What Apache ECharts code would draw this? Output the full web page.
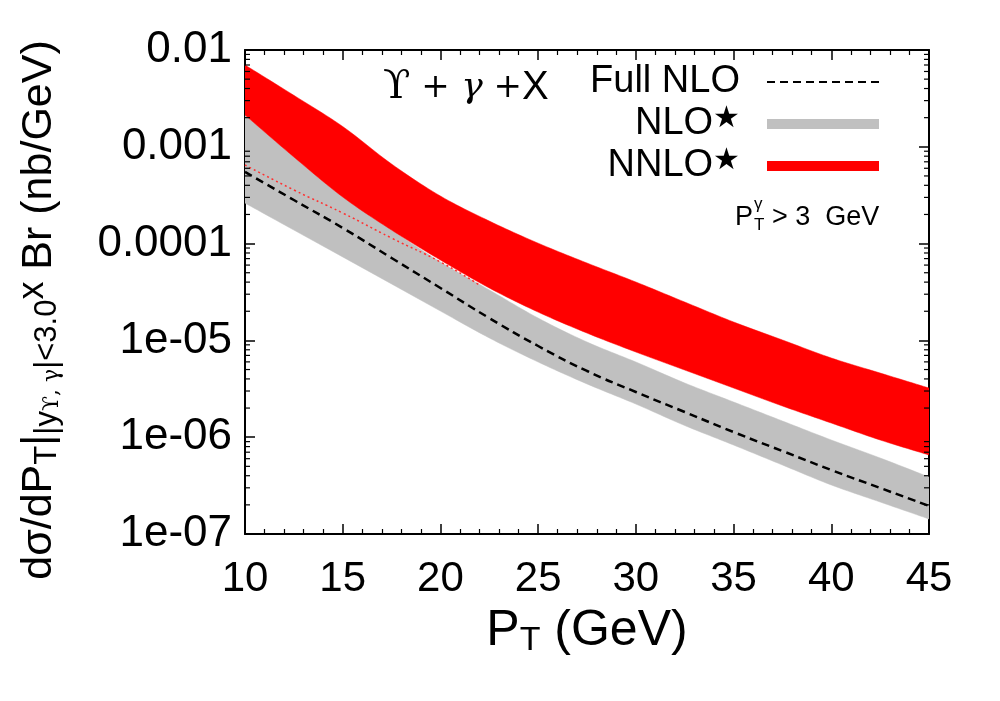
<!DOCTYPE html>
<html><head><meta charset="utf-8">
<script src="https://cdn.jsdelivr.net/npm/echarts@6/dist/echarts.min.js"></script>
<style>html,body{margin:0;padding:0;background:#fff}#c{width:1000px;height:701px}</style>
</head><body><div id="c"></div>
<script>
// ---- data ----
const pT        = [10, 12.5, 15, 17.5, 20, 22.5, 25, 27.5, 30, 32.5, 35, 37.5, 40, 42.5, 45];
const nnloTop   = [7.0e-3, 3.40e-3, 1.62e-3, 6.64e-4, 3.10e-4, 1.71e-4, 1.01e-4, 6.3e-5, 4.01e-5, 2.49e-5, 1.55e-5, 1.01e-5, 6.58e-6, 4.60e-6, 3.22e-6];
const nnloBot   = [2.13e-3, 7.85e-4, 3.03e-4, 1.38e-4, 6.77e-5, 3.48e-5, 1.96e-5, 1.19e-5, 7.58e-6, 4.94e-6, 3.22e-6, 2.10e-6, 1.40e-6, 9.36e-7, 6.55e-7];
const nloTop    = [2.13e-3, 7.85e-4, 3.03e-4, 1.38e-4, 6.46e-5, 3.32e-5, 1.70e-5, 9.62e-6, 5.98e-6, 3.63e-6, 2.31e-6, 1.47e-6, 9.36e-7, 6.10e-7, 3.88e-7];
const nloBot    = [2.62e-4, 1.38e-4, 7.28e-5, 3.83e-5, 2.01e-5, 1.06e-5, 5.98e-6, 3.55e-6, 2.20e-6, 1.32e-6, 8.30e-7, 5.16e-7, 3.21e-7, 2.14e-7, 1.43e-7];
const fullNLO   = [5.50e-4, 2.82e-4, 1.45e-4, 7.10e-5, 3.48e-5, 1.70e-5, 8.75e-6, 4.83e-6, 2.93e-6, 1.82e-6, 1.13e-6, 7.20e-7, 4.58e-7, 2.99e-7, 1.95e-7];
const dotPT     = [10, 12.5, 15, 17.5, 20, 22];
const dotVals   = [6.49e-4, 3.58e-4, 2.07e-4, 1.14e-4, 6.46e-5, 3.73e-5];
const yTickLabels = {'1e-7':'1e-07','1e-6':'1e-06','1e-5':'1e-05','1e-4':'0.0001','1e-3':'0.001','1e-2':'0.01'};
const minorMult = [2, 3, 4, 5, 6, 7, 8, 9];
const decades   = [-7, -6, -5, -4, -3];

const SANS = "'Liberation Sans', Arial, Helvetica, sans-serif";
const NARROW = "'Liberation Sans Narrow', 'Liberation Sans', sans-serif";

// Catmull-Rom resampling in pixel space of library-projected points
function spline(pts, steps) {
  const out = [];
  for (let i = 0; i < pts.length - 1; i++) {
    const p0 = pts[i - 1] || pts[i], p1 = pts[i], p2 = pts[i + 1], p3 = pts[i + 2] || pts[i + 1];
    for (let s = 0; s < steps; s++) {
      const t = s / steps, t2 = t * t, t3 = t2 * t;
      const f = k => 0.5 * ((2 * p1[k]) + (-p0[k] + p2[k]) * t + (2 * p0[k] - 5 * p1[k] + 4 * p2[k] - p3[k]) * t2 + (-p0[k] + 3 * p1[k] - 3 * p2[k] + p3[k]) * t3);
      out.push([f(0), f(1)]);
    }
  }
  out.push(pts[pts.length - 1]);
  return out;
}

function bandRender(lo, hi, color) {
  return function (params, api) {
    if (params.dataIndex !== 0) return null;
    const up = [], dn = [];
    for (let i = 0; i < pT.length; i++) { up.push(api.coord([pT[i], hi[i]])); dn.push(api.coord([pT[i], lo[i]])); }
    const pts = spline(up, 12).concat(spline(dn, 12).reverse());
    const cs = params.coordSys;
    return {
      type: 'polygon',
      shape: { points: pts },
      style: { fill: color, stroke: color, lineWidth: 0.5 },
      clipPath: { type: 'rect', shape: { x: cs.x, y: cs.y, width: cs.width, height: cs.height } }
    };
  };
}

const minorData = [];
decades.forEach(d => minorMult.forEach(m => minorData.push([10, m * Math.pow(10, d)])));

const chart = echarts.init(document.getElementById('c'), null, { renderer: 'canvas' });
chart.setOption({
  backgroundColor: '#fff',
  animation: false,
  grid: { left: 245, right: 71, top: 50, bottom: 167, containLabel: false, show: false },
  legend: {
    orient: 'vertical', align: 'right', right: 120, top: 63,
    itemWidth: 112, itemHeight: 10, itemGap: 3, padding: 0,
    data: [
      { name: 'Full NLO', itemStyle: { opacity: 0, color: 'rgba(0,0,0,0)', borderWidth: 0 } },
      { name: 'NLO★', icon: 'rect' },
      { name: 'NNLO★', icon: 'rect' }
    ],
    formatter: function (n) {
      if (n === 'Full NLO') return '{a|Full NLO}';
      return '{a|' + n.replace('★', '') + '}{s|★}';
    },
    textStyle: {
      color: '#000', fontFamily: SANS, fontSize: 38, padding: [0, 22, 0, 0],
      rich: {
        a: { fontFamily: SANS, fontSize: 38, color: '#000', lineHeight: 40 },
        s: { fontFamily: "'DejaVu Sans', sans-serif", fontSize: 30, color: '#000', verticalAlign: 'top', lineHeight: 40 }
      }
    }
  },
  xAxis: [{
    type: 'value', min: 10, max: 45, interval: 5, position: 'bottom',
    name: '{p|P}{s|T}{p| (GeV)}', nameLocation: 'middle', nameGap: 70,
    nameTextStyle: {
      rich: {
        p: { fontFamily: NARROW, fontSize: 50, color: '#000', lineHeight: 54 },
        s: { fontFamily: NARROW, fontSize: 34, color: '#000', verticalAlign: 'bottom', lineHeight: 22 }
      }
    },
    axisLine: { show: true, onZero: false, lineStyle: { color: '#000', width: 2 } },
    axisTick: { show: true, inside: true, length: 10, lineStyle: { color: '#000', width: 1.5 } },
    minorTick: { show: true, splitNumber: 5, length: 5, lineStyle: { color: '#000', width: 1.2 } },
    splitLine: { show: false },
    axisLabel: { color: '#000', fontFamily: NARROW, fontSize: 42, margin: 24 }
  }, {
    type: 'value', min: 10, max: 45, interval: 5, position: 'top',
    axisLine: { show: true, onZero: false, lineStyle: { color: '#000', width: 2 } },
    axisTick: { show: true, inside: true, length: 10, lineStyle: { color: '#000', width: 1.5 } },
    minorTick: { show: true, splitNumber: 5, length: 5, lineStyle: { color: '#000', width: 1.2 } },
    splitLine: { show: false }, axisLabel: { show: false }
  }],
  yAxis: [{
    type: 'log', logBase: 10, min: 1e-7, max: 1e-2, position: 'left',
    name: '{n|dσ/dP}{s|T}{n||}{s||y}{ss|ϒ, γ}{s||<3.0}{x|x}{n| Br (nb/GeV)}',
    nameLocation: 'middle', nameRotate: 90, nameGap: 182,
    nameTextStyle: {
      padding: [0, 36, 0, 0],
      rich: {
        n:  { fontFamily: SANS, fontSize: 43, color: '#000', lineHeight: 48 },
        s:  { fontFamily: SANS, fontSize: 31, color: '#000', verticalAlign: 'bottom', lineHeight: 22 },
        ss: { fontFamily: "'DejaVu Serif', serif", fontSize: 22, color: '#000', verticalAlign: 'bottom', lineHeight: 14 },
        x:  { fontFamily: SANS, fontSize: 36, color: '#000', verticalAlign: 'top', lineHeight: 40 }
      }
    },
    axisLine: { show: true, onZero: false, lineStyle: { color: '#000', width: 2 } },
    axisTick: { show: true, inside: true, length: 10, lineStyle: { color: '#000', width: 1.5 } },
    minorTick: { show: false },
    splitLine: { show: false },
    axisLabel: {
      color: '#000', fontFamily: SANS, fontSize: 44, margin: 13,
      formatter: function (v) {
        const e = Math.round(Math.log10(v));
        return yTickLabels['1e' + e] || String(v);
      }
    }
  }, {
    type: 'log', logBase: 10, min: 1e-7, max: 1e-2, position: 'right',
    axisLine: { show: true, onZero: false, lineStyle: { color: '#000', width: 2 } },
    axisTick: { show: true, inside: true, length: 10, lineStyle: { color: '#000', width: 1.5 } },
    splitLine: { show: false }, axisLabel: { show: false }
  }],
  series: [
    {
      name: 'NLO★', type: 'custom', xAxisIndex: 0, yAxisIndex: 0, z: 2,
      itemStyle: { color: '#c0c0c0' },
      renderItem: bandRender(nloBot, nloTop, '#c0c0c0'),
      encode: { x: 0, y: [1, 2] },
      data: pT.map((x, i) => [x, nloBot[i], nloTop[i]])
    },
    {
      name: 'NNLO★', type: 'custom', xAxisIndex: 0, yAxisIndex: 0, z: 3,
      itemStyle: { color: '#ff0000' },
      renderItem: bandRender(nnloBot, nnloTop, '#ff0000'),
      encode: { x: 0, y: [1, 2] },
      data: pT.map((x, i) => [x, nnloBot[i], nnloTop[i]])
    },
    {
      name: 'nnlo-edge', type: 'line', z: 4, symbol: 'none', smooth: true,
      lineStyle: { color: '#ff3030', width: 1.5, type: [2, 3] },
      data: dotPT.map((x, i) => [x, dotVals[i]]), silent: true
    },
    {
      name: 'Full NLO', type: 'line', z: 5, symbol: 'none', smooth: true,
      itemStyle: { color: '#000' },
      lineStyle: { color: '#000', width: 2.5, type: [8, 5] },
      data: pT.map((x, i) => [x, fullNLO[i]])
    },
    {
      name: 'yminor', type: 'custom', z: 6, silent: true,
      encode: { x: 0, y: 1 },
      renderItem: function (params, api) {
        const p = api.coord([api.value(0), api.value(1)]);
        const cs = params.coordSys;
        return {
          type: 'group', children: [
            { type: 'line', shape: { x1: cs.x, y1: p[1], x2: cs.x + 5, y2: p[1] }, style: { stroke: '#000', lineWidth: 1.2 } },
            { type: 'line', shape: { x1: cs.x + cs.width, y1: p[1], x2: cs.x + cs.width - 5, y2: p[1] }, style: { stroke: '#000', lineWidth: 1.2 } }
          ]
        };
      },
      data: minorData
    }
  ],
  graphic: [
    {
      type: 'text', left: 383, top: 68, z: 10,
      style: {
        text: '{u|ϒ}{p| +}{g| γ}{p| +}{x|X}',
        rich: {
          u: { fontFamily: "'DejaVu Serif', serif", fontSize: 40, fill: '#000' },
          p: { fontFamily: "'DejaVu Serif', serif", fontSize: 34, fill: '#000' },
          g: { fontFamily: "'DejaVu Serif', serif", fontStyle: 'italic', fontSize: 36, fill: '#000' },
          x: { fontFamily: SANS, fontSize: 40, fill: '#000' }
        }
      }
    },
    { type: 'text', left: 735, top: 204, z: 10, style: { text: 'P', fontFamily: SANS, fontSize: 27, fill: '#000' } },
    { type: 'text', left: 754, top: 196, z: 10, style: { text: 'γ', fontFamily: SANS, fontSize: 17, fill: '#000' } },
    { type: 'text', left: 754, top: 217, z: 10, style: { text: 'T', fontFamily: SANS, fontSize: 17, fill: '#000' } },
    { type: 'text', left: 772, top: 204, z: 10, style: { text: '> 3  GeV', fontFamily: SANS, fontSize: 27, fill: '#000' } }
  ]
});
</script>
</body></html>
